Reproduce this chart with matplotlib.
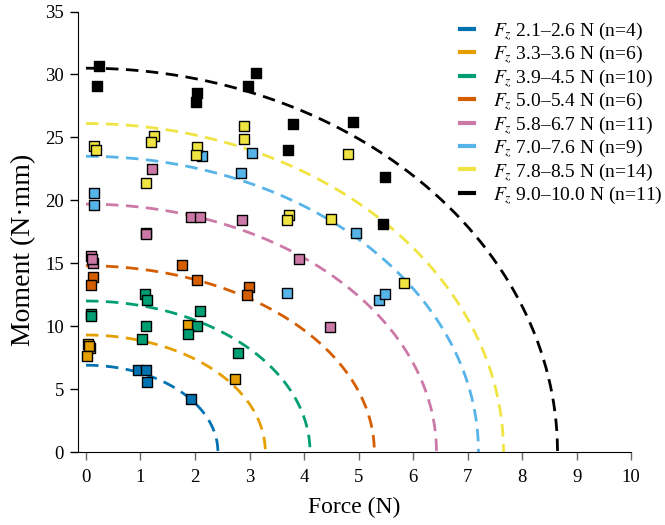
import numpy as np
import matplotlib
matplotlib.use('Agg')
import matplotlib.pyplot as plt
from matplotlib.lines import Line2D

plt.rcParams['font.family'] = ['Liberation Serif', 'DejaVu Serif']
plt.rcParams['mathtext.fontset'] = 'stix'

#==================================================
# data (force in N, moment in N*mm)

labels = ['$F_z$ 2.1–2.6 N (n=4)', '$F_z$ 3.3–3.6 N (n=6)', '$F_z$ 3.9–4.5 N (n=10)',
          '$F_z$ 5.0–5.4 N (n=6)', '$F_z$ 5.8–6.7 N (n=11)', '$F_z$ 7.0–7.6 N (n=9)',
          '$F_z$ 7.8–8.5 N (n=14)', '$F_z$ 9.0–10.0 N (n=11)']
colors = ['#0072B2', '#E69F00', '#009E73', '#D55E00', '#CC79A7', '#56B4E9', '#F0E442', '#000000']

# limit surface fit: force intercept, moment intercept
fit_force = [2.42, 3.29, 4.11, 5.29, 6.43, 7.20, 7.66, 8.65]
fit_moment = [6.9, 9.3, 12.0, 14.8, 19.7, 23.5, 26.1, 30.5]

force_g1 = [0.95, 1.10, 1.12, 1.93]
moment_g1 = [6.5, 6.5, 5.6, 4.2]

force_g2 = [0.03, 0.07, 0.05, 0.02, 1.87, 2.74]
moment_g2 = [8.55, 8.3, 8.4, 7.6, 10.1, 5.8]

force_g3 = [1.09, 1.12, 2.10, 0.09, 0.10, 1.11, 2.04, 1.87, 1.02, 2.78]
moment_g3 = [12.55, 12.1, 11.2, 10.95, 10.8, 10.0, 10.0, 9.35, 8.95, 7.85]

force_g4 = [1.77, 2.03, 0.12, 0.09, 2.99, 2.95]
moment_g4 = [14.85, 13.7, 13.9, 13.25, 13.1, 12.5]

force_g5 = [1.22, 1.93, 2.09, 2.87, 1.10, 1.10, 0.10, 0.12, 0.11, 3.91, 4.48]
moment_g5 = [22.5, 18.7, 18.65, 18.4, 17.4, 17.3, 15.6, 15.0, 15.3, 15.35, 9.97]

force_g6 = [3.05, 2.12, 2.84, 0.14, 0.14, 4.96, 3.68, 5.37, 5.49]
moment_g6 = [23.8, 23.5, 22.2, 20.6, 19.65, 17.4, 12.65, 12.1, 12.55]

force_g7 = [0.15, 0.18, 1.25, 1.19, 2.90, 2.90, 2.04, 2.02, 4.81, 1.11, 3.72, 3.69, 4.50, 5.84]
moment_g7 = [24.3, 24.0, 25.1, 24.6, 25.9, 24.9, 24.2, 23.6, 23.7, 21.4, 18.85, 18.4, 18.5, 13.4]

force_g8 = [0.23, 0.21, 2.04, 2.01, 3.12, 2.98, 3.79, 3.71, 4.89, 5.49, 5.44]
moment_g8 = [30.7, 29.1, 28.5, 27.8, 30.1, 29.1, 26.1, 24.0, 26.2, 21.85, 18.1]

forces = [force_g1, force_g2, force_g3, force_g4, force_g5, force_g6, force_g7, force_g8]
moments = [moment_g1, moment_g2, moment_g3, moment_g4, moment_g5, moment_g6, moment_g7, moment_g8]

xticks = np.arange(0, 11, 1)
yticks = np.arange(0, 40, 5)

#==================================================

fig = plt.figure(figsize=(6.65, 5.25), dpi=100)
ax = fig.add_axes([0.117, 0.139, 0.832, 0.839])

theta = np.linspace(0, np.pi / 2, 200)
handles = []
for i in range(len(labels)):
	# quarter ellipse fit
	ax.plot(fit_force[i] * np.sin(theta), fit_moment[i] * np.cos(theta),
			color=colors[i], lw=2, dashes=(4.5, 2.7), zorder=2)
	ax.scatter(forces[i], moments[i], marker='s', s=44, facecolor=colors[i],
			   edgecolor='black', linewidth=1, zorder=3)
	handles.append(Line2D([], [], color=colors[i], lw=3))

ax.set_xlim(-0.15, 10)
ax.set_ylim(0, 35)
ax.set_xticks(xticks)
ax.set_yticks(yticks)
ax.tick_params(axis='both', labelsize=13.5, direction='out', length=6, width=1)
ax.tick_params(axis='x', color='#666666', pad=6)
ax.tick_params(axis='y', pad=4)
ax.spines['top'].set_visible(False)
ax.spines['right'].set_visible(False)

ax.set_xlabel('Force (N)', fontsize=17, labelpad=8)
ax.set_ylabel('Moment (N·mm)', fontsize=20)
ax.yaxis.set_label_coords(-0.075, 0.46)

ax.legend(handles, labels, loc='upper right', bbox_to_anchor=(1.088, 1.02), frameon=False,
		  fontsize=14, handlelength=0.75, handletextpad=0.95, labelspacing=0.09)

fig.savefig('out.png', dpi=100)
